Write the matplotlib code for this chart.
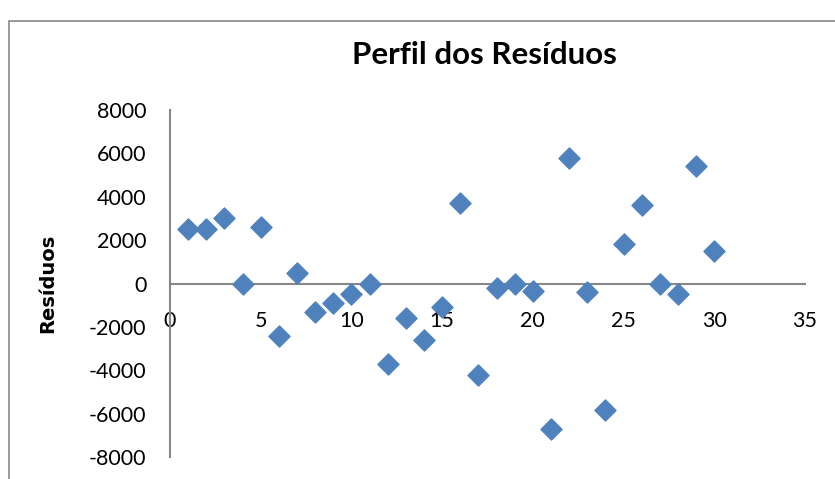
# Perfil dos Resíduos - scatter chart in the Excel style
import matplotlib
matplotlib.use('Agg')
import matplotlib.pyplot as plt
import matplotlib.patches as patches

plt.rcParams['axes.unicode_minus'] = False

obs = list(range(1, 31))
residuos = [2500, 2500, 3000, 0, 2600, -2400, 500, -1300, -900, -500,
            0, -3700, -1600, -2600, -1100, 3700, -4200, -200, 0, -350,
            -6700, 5800, -400, -5850, 1800, 3600, 0, -500, 5400, 1500]

xticks = [0, 5, 10, 15, 20, 25, 30, 35]
yticks = [-8000, -6000, -4000, -2000, 0, 2000, 4000, 6000, 8000]

W, H = 835, 479
fig = plt.figure(figsize=(W / 100, H / 100), dpi=100)
ax = fig.add_axes([170 / W, 1 - 457 / H, 635 / W, 347 / H])

ax.scatter(obs, residuos, marker='D', s=115, color='#4F81BD', zorder=3)

ax.set_xlim(0, 35)
ax.set_ylim(-8000, 8000)
ax.set_xticks(xticks)
ax.set_yticks(yticks)

# axes cross at zero like in Excel
for side in ['top', 'right']:
    ax.spines[side].set_visible(False)
ax.spines['left'].set_position(('data', 0))
ax.spines['bottom'].set_position(('data', 0))
for side in ['left', 'bottom']:
    ax.spines[side].set_color('#868686')
    ax.spines[side].set_linewidth(1.5)

ax.tick_params(axis='both', length=0, labelsize=15.5)
ax.tick_params(axis='x', pad=20)
ax.tick_params(axis='y', pad=17)
for lab in ax.get_xticklabels() + ax.get_yticklabels():
    lab.set_family('Lato')

ax.set_ylabel('Resíduos', fontsize=14, fontweight='bold', family='DejaVu Sans')
ax.yaxis.set_label_coords(-0.178, 0.5)

fig.text(484 / W, 1 - 55 / H, 'Perfil dos Resíduos', ha='center', va='center',
         fontsize=22.5, fontweight='bold', family='Lato')

# chart area border
frame = patches.Rectangle((9 / W, -0.1), 1.0, 1 - 21 / H + 0.1, fill=False,
                          edgecolor='#898989', linewidth=1.2,
                          transform=fig.transFigure)
fig.add_artist(frame)

fig.savefig('out.png', dpi=100)
